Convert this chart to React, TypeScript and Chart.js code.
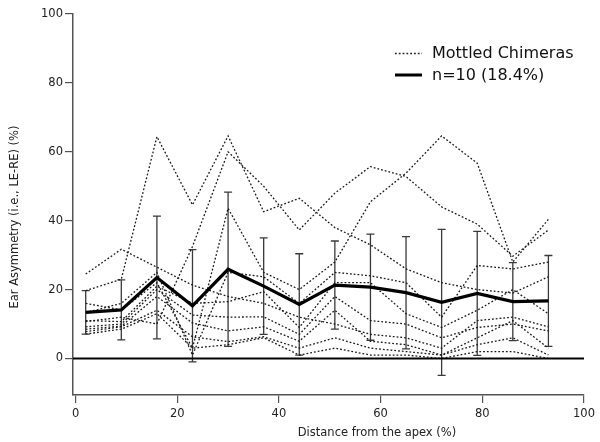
import React, { useEffect, useRef } from "react";
import { Chart, registerables } from "chart.js";

Chart.register(...registerables);

const xPositions = [2, 9, 16, 23, 30, 37, 44, 51, 58, 65, 72, 79, 86, 93];
const meanValues = [13.4, 14.1, 23.5, 15.3, 25.9, 21.0, 15.7, 21.3, 20.7, 19.1, 16.3, 18.9, 16.5, 16.7];
const errValues = [6.3, 8.7, 17.8, 16.3, 22.4, 14.0, 14.7, 12.8, 15.4, 16.3, 21.2, 18.0, 11.3, 13.2];

const chimeraA = [19.7, 23.0, 64.4, 44.6, 64.6, 42.6, 46.5, 38.0, 33.0, 26.0, 22.0, 20.0, 19.0, 23.7];
const chimeraB = [24.5, 31.7, 26.5, 21.3, 18.0, 16.0, 12.0, 10.0, 7.0, 6.0, 3.0, 11.0, 12.0, 9.2];
const chimeraC = [10.7, 12.0, 10.0, 32.5, 60.0, 50.0, 37.3, 48.0, 55.7, 52.8, 44.0, 39.0, 29.7, 37.3];
const chimeraD = [16.0, 14.1, 22.0, 3.0, 43.6, 25.0, 20.0, 28.0, 45.5, 53.8, 64.6, 56.7, 28.0, 40.4];
const chimeraE = [13.3, 16.0, 25.0, 1.0, 25.0, 23.7, 16.0, 25.0, 24.0, 22.0, 12.0, 27.0, 26.0, 28.0];
const chimeraF = [11.0, 10.7, 21.0, 16.0, 16.5, 19.4, 9.0, 22.0, 22.0, 13.0, 9.0, 14.0, 20.0, 13.0];
const chimeraG = [9.2, 10.0, 20.0, 12.6, 12.0, 12.1, 7.0, 18.0, 11.0, 10.0, 6.0, 9.0, 10.0, 8.0];
const chimeraH = [8.5, 9.4, 18.0, 10.3, 8.0, 9.2, 5.0, 14.0, 5.0, 4.0, 1.0, 6.0, 11.0, 3.0];
const chimeraI = [7.8, 9.2, 14.0, 6.3, 4.9, 6.3, 3.0, 6.0, 3.0, 2.0, 1.0, 4.0, 6.0, 1.0];
const chimeraJ = [7.1, 8.5, 13.0, 3.0, 4.0, 6.0, 1.0, 3.0, 1.0, 1.0, 0.0, 2.0, 2.0, 0.0];

const chimeraSeries = [chimeraA, chimeraB, chimeraC, chimeraD, chimeraE, chimeraF, chimeraG, chimeraH, chimeraI, chimeraJ];

const xTicks = [0, 20, 40, 60, 80, 100];
const yTicks = [0, 20, 40, 60, 80, 100];
const xRange = [-0.5, 100];
const yRange = [-10.6, 100];
const zeroLineX = [-0.5, 100];

const legendLabels = ["Mottled Chimeras", "n=10 (18.4%)"];
const xTitle = "Distance from the apex (%)";
const yTitle = "Ear Asymmetry (i.e., LE-RE) (%)";

const FONT = "'DejaVu Sans', sans-serif";

const toPoints = (vals: number[]) => xPositions.map((x, i) => ({ x, y: vals[i] }));

const errorBarPlugin = {
  id: "errorBars",
  beforeDatasetsDraw(chart: any) {
    const { ctx, scales } = chart;
    const xs = scales.x;
    const ys = scales.y;
    ctx.save();
    ctx.strokeStyle = "#3a3a3a";
    ctx.lineWidth = 1.3;
    const cap = 4;
    xPositions.forEach((xv, i) => {
      const px = xs.getPixelForValue(xv);
      const top = ys.getPixelForValue(meanValues[i] + errValues[i]);
      const bot = ys.getPixelForValue(meanValues[i] - errValues[i]);
      ctx.beginPath();
      ctx.moveTo(px, top);
      ctx.lineTo(px, bot);
      ctx.moveTo(px - cap, top);
      ctx.lineTo(px + cap, top);
      ctx.moveTo(px - cap, bot);
      ctx.lineTo(px + cap, bot);
      ctx.stroke();
    });
    ctx.restore();
  },
};

const annotationPlugin = {
  id: "annotations",
  afterDraw(chart: any) {
    const { ctx } = chart;
    ctx.save();
    // legend
    ctx.strokeStyle = "#222";
    ctx.lineWidth = 1.3;
    ctx.setLineDash([1.8, 2]);
    ctx.beginPath();
    ctx.moveTo(395, 53.5);
    ctx.lineTo(422, 53.5);
    ctx.stroke();
    ctx.setLineDash([]);
    ctx.strokeStyle = "#000";
    ctx.lineWidth = 3;
    ctx.beginPath();
    ctx.moveTo(395, 75);
    ctx.lineTo(422, 75);
    ctx.stroke();
    ctx.fillStyle = "#111";
    ctx.font = `16px ${FONT}`;
    ctx.textAlign = "left";
    ctx.textBaseline = "middle";
    ctx.fillText(legendLabels[0], 432, 54);
    ctx.fillText(legendLabels[1], 432, 76);
    // axis titles
    ctx.fillStyle = "#222";
    ctx.font = `11.5px ${FONT}`;
    ctx.textAlign = "center";
    ctx.fillText(xTitle, 377, 433);
    ctx.translate(15, 217);
    ctx.rotate(-Math.PI / 2);
    ctx.fillText(yTitle, 0, 0);
    ctx.restore();
  },
};

export default function App() {
  const canvasRef = useRef<HTMLCanvasElement | null>(null);

  useEffect(() => {
    if (!canvasRef.current) return;
    const datasets: any[] = [
      {
        label: legendLabels[1],
        data: toPoints(meanValues),
        borderColor: "#000",
        borderWidth: 3.2,
        pointRadius: 0,
        tension: 0,
      },
      {
        label: "zero",
        data: zeroLineX.map((x) => ({ x, y: 0 })),
        borderColor: "#000",
        borderWidth: 2,
        pointRadius: 0,
      },
      ...chimeraSeries.map((s, k) => ({
        label: `${legendLabels[0]} ${k + 1}`,
        data: toPoints(s),
        borderColor: "#1a1a1a",
        borderWidth: 1.3,
        borderDash: [1.8, 2],
        pointRadius: 0,
        tension: 0,
      })),
    ];

    const axisCommon = {
      type: "linear" as const,
      grid: {
        drawOnChartArea: false,
        drawTicks: true,
        tickLength: 8,
        color: "#555",
        lineWidth: 1.2,
      },
      border: { display: true, color: "#555", width: 1.5 },
    };

    const chart = new Chart(canvasRef.current, {
      type: "line",
      data: { datasets },
      options: {
        animation: false,
        responsive: false,
        maintainAspectRatio: false,
        layout: { padding: { top: 14, right: 16, left: 0, bottom: 0 } },
        plugins: { legend: { display: false }, tooltip: { enabled: false } },
        scales: {
          x: {
            ...axisCommon,
            min: xRange[0],
            max: xRange[1],
            afterBuildTicks: (s: any) => {
              s.ticks = xTicks.map((v) => ({ value: v }));
            },
            afterFit: (s: any) => {
              s.height = 47;
            },
            ticks: {
              font: { family: FONT, size: 11.5 },
              color: "#222",
              padding: 4,
              maxRotation: 0,
              autoSkip: false,
            },
          },
          y: {
            ...axisCommon,
            min: yRange[0],
            max: yRange[1],
            afterBuildTicks: (s: any) => {
              s.ticks = yTicks.map((v) => ({ value: v }));
            },
            afterFit: (s: any) => {
              s.width = 73;
            },
            ticks: {
              font: { family: FONT, size: 11.5 },
              color: "#222",
              padding: 2,
              autoSkip: false,
            },
          },
        },
      } as any,
      plugins: [errorBarPlugin, annotationPlugin],
    });
    return () => chart.destroy();
  }, []);

  return (
    <div style={{ position: "absolute", left: 0, top: 0, width: 600, height: 442, background: "#fff" }}>
      <canvas ref={canvasRef} width={600} height={442} style={{ width: 600, height: 442 }} />
    </div>
  );
}
